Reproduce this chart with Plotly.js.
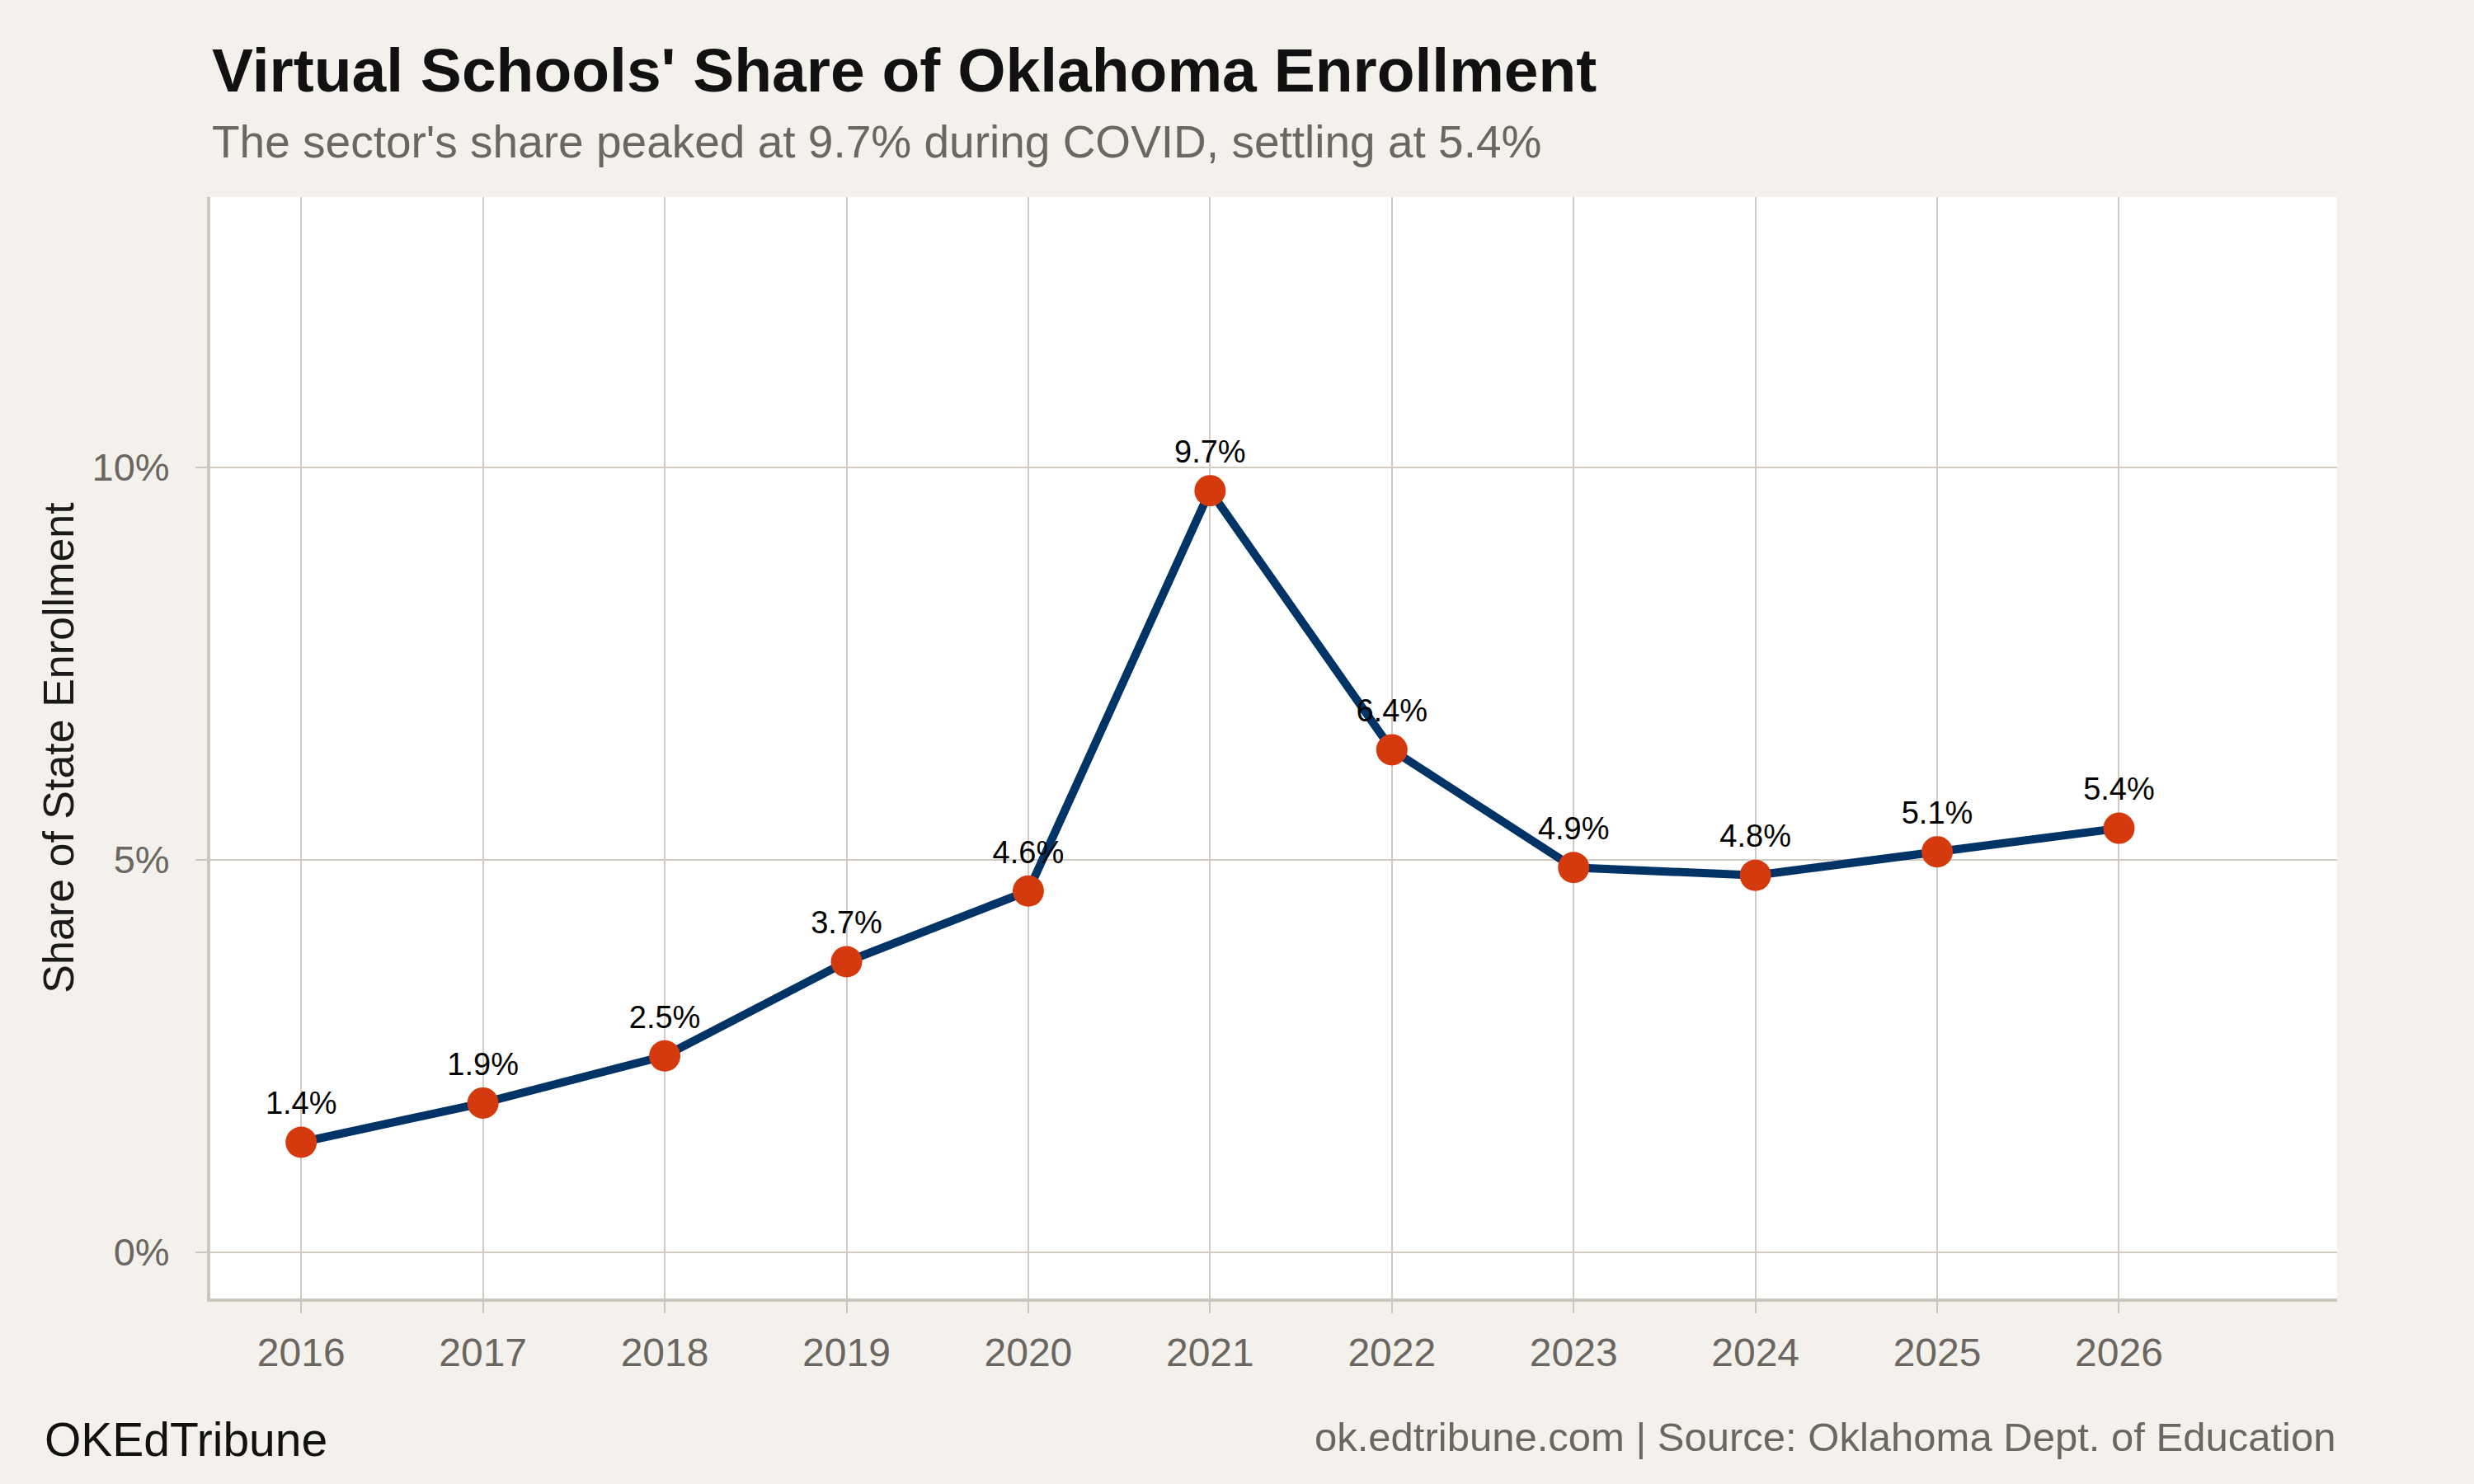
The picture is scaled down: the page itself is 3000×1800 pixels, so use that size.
<!DOCTYPE html>
<html>
<head>
<meta charset="utf-8">
<script src="https://cdn.plot.ly/plotly-3.0.1.min.js"></script>
<style>
  html, body { margin: 0; padding: 0; background: #f4f1ec; }
  #chart { width: 3000px; height: 1800px; }
</style>
</head>
<body>
<div id="chart"></div>
<script>
// School years and the virtual-school share of statewide enrollment (%)
const years = [2016, 2017, 2018, 2019, 2020, 2021, 2022, 2023, 2024, 2025, 2026];
const sharePct = [1.4, 1.9, 2.5, 3.7, 4.6, 9.7, 6.4, 4.9, 4.8, 5.1, 5.4];
const yTickVals = [0, 5, 10];
const yTickText = ['0%', '5%', '10%'];

const FONT = 'Liberation Sans, Arial, Helvetica, sans-serif';
const GRID = '#d2cbc2';
const AXIS = '#cdc6bc';
const MUTED = '#6b6660';

const labels = sharePct.map(v => v.toFixed(1) + '%');

const trace = {
  x: years,
  y: sharePct,
  type: 'scatter',
  mode: 'lines+markers+text',
  line: { color: '#003366', width: 10 },
  marker: { color: '#d43a0e', size: 38, line: { width: 0 } },
  text: labels,
  textposition: 'top center',
  textfont: { family: FONT, size: 38, color: '#000000' },
  cliponaxis: false,
  hoverinfo: 'skip'
};

const layout = {
  width: 3000,
  height: 1800,
  paper_bgcolor: '#f4f1ec',
  plot_bgcolor: '#ffffff',
  margin: { l: 255, r: 166, t: 239, b: 225, pad: 0 },
  showlegend: false,
  font: { family: FONT },
  xaxis: {
    range: [2015.5, 2027.2],
    tickmode: 'array',
    tickvals: years,
    ticktext: years.map(String),
    showgrid: true,
    gridcolor: GRID,
    gridwidth: 2,
    zeroline: false,
    showline: true,
    linecolor: AXIS,
    linewidth: 4,
    ticks: 'outside',
    ticklen: 14,
    tickwidth: 2,
    tickcolor: AXIS,
    tickfont: { family: FONT, size: 48, color: MUTED },
    ticklabelstandoff: 6
  },
  yaxis: {
    range: [-0.59, 13.44],
    tickmode: 'array',
    tickvals: yTickVals,
    ticktext: yTickText,
    showgrid: true,
    gridcolor: GRID,
    gridwidth: 2,
    zeroline: false,
    showline: true,
    linecolor: AXIS,
    linewidth: 4,
    ticks: 'outside',
    ticklen: 14,
    tickwidth: 2,
    tickcolor: AXIS,
    tickfont: { family: FONT, size: 47, color: MUTED },
    ticklabelstandoff: 22,
    title: {
      text: 'Share of State Enrollment',
      font: { family: FONT, size: 52, color: '#1a1a1a' },
      standoff: 6
    }
  },
  annotations: [
    {
      text: "<b>Virtual Schools' Share of Oklahoma Enrollment</b>",
      xref: 'paper', yref: 'paper', x: 0, y: 1.1153,
      xanchor: 'left', yanchor: 'middle', showarrow: false,
      font: { family: FONT, size: 75, color: '#111111' }
    },
    {
      text: "The sector's share peaked at 9.7% during COVID, settling at 5.4%",
      xref: 'paper', yref: 'paper', x: 0, y: 1.0501,
      xanchor: 'left', yanchor: 'middle', showarrow: false,
      font: { family: FONT, size: 55, color: MUTED }
    },
    {
      text: 'OKEdTribune',
      xref: 'paper', yref: 'paper', x: -0.0786, y: -0.128,
      xanchor: 'left', yanchor: 'middle', showarrow: false,
      font: { family: FONT, size: 57, color: '#111111' }
    },
    {
      text: 'ok.edtribune.com | Source: Oklahoma Dept. of Education',
      xref: 'paper', yref: 'paper', x: 1, y: -0.1261,
      xanchor: 'right', yanchor: 'middle', showarrow: false,
      font: { family: FONT, size: 49, color: MUTED }
    }
  ]
};

Plotly.newPlot('chart', [trace], layout, { displayModeBar: false, staticPlot: true });
</script>
</body>
</html>
